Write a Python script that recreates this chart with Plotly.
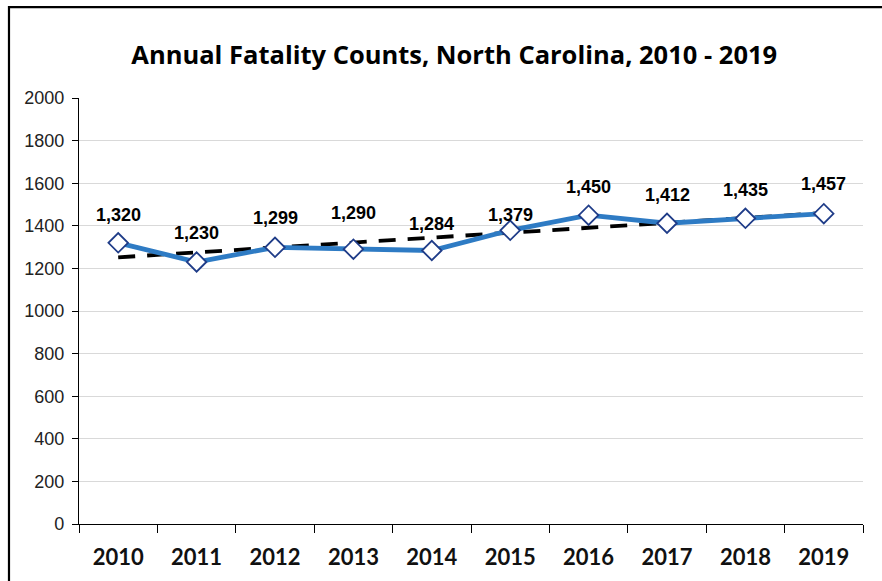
import plotly.graph_objects as go

years = ["2010", "2011", "2012", "2013", "2014", "2015", "2016", "2017", "2018", "2019"]
fatalities = [1320, 1230, 1299, 1290, 1284, 1379, 1450, 1412, 1435, 1457]
trend_years = ["2010", "2019"]
trend_values = [1252, 1460]
y_ticks = [0, 200, 400, 600, 800, 1000, 1200, 1400, 1600, 1800, 2000]

# vertical label offsets (px) above each point, as placed in the reference
label_shift = [28, 29, 29, 36, 27, 15, 28, 28, 28, 30]

fig = go.Figure()

fig.add_trace(go.Scatter(
    x=trend_years, y=trend_values, mode="lines",
    line=dict(color="black", width=3.8, dash="17px,12px"),
    showlegend=False, hoverinfo="skip"))

fig.add_trace(go.Scatter(
    x=years, y=fatalities, mode="lines+markers",
    line=dict(color="#2E7BC4", width=4.8),
    marker=dict(symbol="diamond", size=15, color="white",
                line=dict(color="#1F3C88", width=1.8)),
    showlegend=False, hoverinfo="x+y"))

for i, v in enumerate(fatalities):
    fig.add_annotation(x=i, y=v, xref="x", yref="y", text=f"<b>{v:,}</b>", showarrow=False,
                       yshift=label_shift[i],
                       font=dict(family="Liberation Sans, Arial", size=18, color="black"),
                       xanchor="center", yanchor="middle")

fig.update_layout(
    width=882, height=581,
    margin=dict(l=79, r=19, t=98, b=56.5),
    paper_bgcolor="white", plot_bgcolor="white",
    title=dict(text="<b>Annual Fatality Counts, North Carolina, 2010 - 2019</b>",
               x=0.515, xanchor="center", y=1 - 55 / 581, yanchor="middle",
               font=dict(family="Open Sans, sans-serif", size=25.5, color="black")),
    xaxis=dict(type="category", categoryorder="array", categoryarray=years,
               range=[-0.5, 9.5], tickson="boundaries",
               ticks="outside", ticklen=8, tickcolor="black", tickwidth=1,
               ticklabelstandoff=13,
               showline=True, linecolor="black", linewidth=1.2, showgrid=False,
               tickfont=dict(family="Lato, Open Sans, sans-serif", size=22, color="#111"),
               tickprefix="<b>", ticksuffix="</b>"),
    yaxis=dict(range=[0, 2000], tickvals=y_ticks, ticks="outside", ticklen=6,
               ticklabelstandoff=4,
               tickcolor="black", showline=True, linecolor="black", linewidth=1.2,
               showgrid=True, gridcolor="#D9D9D9", gridwidth=1, zeroline=False,
               tickfont=dict(family="Liberation Sans, Arial", size=18, color="#222")),
)

# outer chart frame: left and top edges only are visible in the reference
fig.add_shape(type="path", xref="paper", yref="paper",
              path="M -0.0893 -0.3 L -0.0893 1.2134 L 1.05 1.2134",
              line=dict(color="black", width=2.2), layer="above")

fig.write_html("out.html", config={"displayModeBar": False},
               post_script="document.body.style.margin='0';")
